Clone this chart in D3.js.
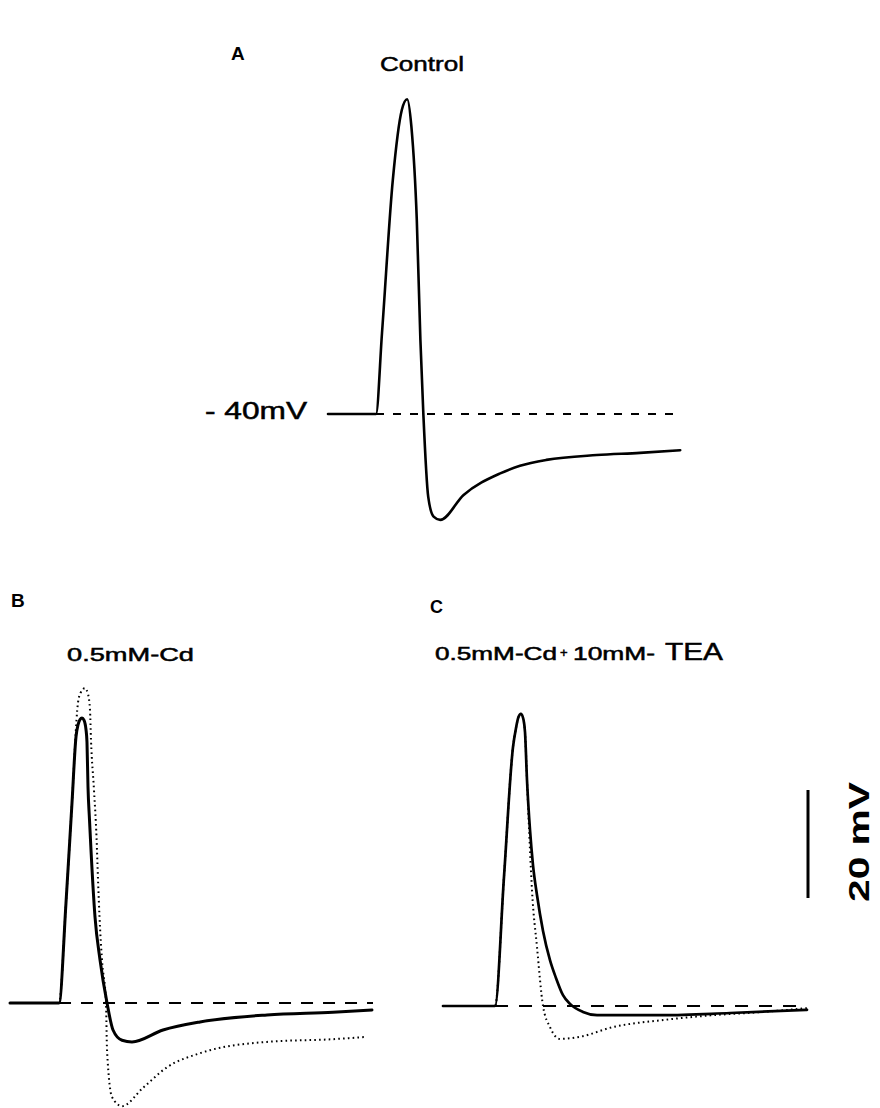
<!DOCTYPE html>
<html>
<head>
<meta charset="utf-8">
<script src="https://cdn.jsdelivr.net/npm/d3@7"></script>
<style>
  html, body { margin: 0; padding: 0; background: #fff; }
  svg { display: block; }
  text { font-family: "Liberation Sans", Arial, sans-serif; fill: #000; }
</style>
</head>
<body>
<svg id="chart" width="880" height="1108"></svg>
<script>
// ---------------- DATA (time in ms, membrane potential in mV) ----------------
const restingPotential = -40;

// Panel A: Control
const timeA    = [0, 8, 9, 10.8, 12.3, 13.2, 13.9, 14.8, 15.4, 15.9, 16.7, 17.6, 18.7, 22.6, 28.7, 32, 36.4, 44.8, 52, 58.7];
const controlA = [-40, -40, -25, 3.3, 16.3, 18.3, 13.2, -4.1, -26.3, -40.2, -55.3, -59.0, -59.6, -55, -51, -49.6, -48.5, -47.6, -47.2, -46.7];
const baselineSpanA = [8, 58.7];

// Panel B: 0.5 mM Cd (solid) with control superimposed (dotted)
const timeB  = [0, 8.17, 9.33, 10.33, 11.0, 11.33, 11.67, 12.0, 12.33, 12.67, 12.83, 13.0, 13.25, 13.5, 14.17, 15.0, 16.17, 17.17, 18.67, 20.33, 25.5, 31.67, 42.83, 53.83, 60.33];
const cdB    = [-40, -40, -21.5, -3.0, 9.3, 11.5, 12.5, 12.8, 12.4, 10.6, 8.3, 0, -6.1, -11.7, -24.1, -32.0, -40, -45, -46.9, -47.2, -45, -43.5, -42.2, -41.7, -41.3];
const timeBc = [0, 8.17, 9.33, 10.33, 11.33, 11.75, 12.5, 13.0, 13.33, 13.5, 14.0, 14.42, 14.67, 14.92, 15.33, 16.0, 16.17, 17.0, 18.67, 22.17, 26.17, 31.67, 42.83, 53.83, 59.17];
const controlB = [-40, -40, -21.5, -3.0, 15.6, 17.4, 18.3, 17.2, 14.3, 8.7, -0.6, -9.3, -17.2, -24.1, -32, -40, -48.7, -57.4, -59.1, -55.7, -51.9, -49.3, -47.2, -46.7, -46.3];
const baselineSpanB = [8.17, 60.5];

// Panel C: 0.5 mM Cd + 10 mM TEA (solid) with 0.5 mM Cd superimposed (dotted)
const timeC   = [0, 8.67, 10.17, 11.67, 12.17, 12.58, 13.0, 13.42, 13.67, 14.0, 14.5, 15.0, 15.67, 16.67, 17.83, 18.83, 20.0, 21.17, 23.33, 25.67, 36.67, 47.83, 60.67];
const cdTeaC  = [-40, -40, -16.0, 8.0, 11.5, 13.5, 14.1, 13.0, 10.7, 1.85, -7.4, -13.9, -19.5, -26.1, -31.5, -34.8, -38.0, -39.6, -41.1, -41.7, -41.7, -41.3, -40.7];
const timeCd  = [0, 8.67, 10.17, 11.67, 12.17, 12.58, 13.0, 13.42, 13.67, 14.0, 14.5, 14.83, 15.67, 16.67, 17.83, 19.5, 22.83, 28.33, 36.67, 45, 53.33, 60.67];
const cdC     = [-40, -40, -16.0, 8.0, 11.5, 13.5, 14.1, 13.0, 10.7, 1.85, -11.1, -18.5, -29.1, -40, -43.9, -46.1, -45.7, -43.9, -42.6, -41.7, -41.1, -40.4];
const baselineSpanC = [8.67, 60.67];

// Scale bar
const scaleBarMV = 20;

// Labels
const panelLabels = ["A", "B", "C"];
const conditionLabels = ["Control", "0.5mM-Cd", "0.5mM-Cd", "+", "10mM-", "TEA"];
const restLabel = "- 40mV";
const scaleLabel = "20 mV";

// ---------------- LAYOUT ----------------
const svg = d3.select("#chart");
const pxPerMs = 6, pxPerMV = 5.4, spanMs = 60;

function makeScales(x0, yBase) {
  const x = d3.scaleLinear().domain([0, spanMs]).range([x0, x0 + spanMs * pxPerMs]);
  const y = d3.scaleLinear().domain([restingPotential, restingPotential + 100])
              .range([yBase, yBase - 100 * pxPerMV]);
  return {x, y};
}

const panels = {
  A: makeScales(328, 414),
  B: makeScales(10, 1003),
  C: makeScales(443, 1006)
};

function trace(sc, ts, vs, opts) {
  const data = ts.map((t, i) => [t, vs[i]]);
  const line = d3.line().x(d => sc.x(d[0])).y(d => sc.y(d[1])).curve(d3.curveMonotoneX);
  svg.append("path").datum(data)
    .attr("d", line)
    .attr("fill", "none")
    .attr("stroke", "#000")
    .attr("stroke-width", opts.width)
    .attr("stroke-dasharray", opts.dash || null)
    .attr("stroke-linejoin", "round")
    .attr("stroke-linecap", opts.dash ? "butt" : "round");
}

function baseline(sc, span, dash) {
  svg.append("line")
    .attr("x1", sc.x(span[0])).attr("x2", sc.x(span[1]))
    .attr("y1", sc.y(restingPotential)).attr("y2", sc.y(restingPotential))
    .attr("stroke", "#000").attr("stroke-width", 2)
    .attr("stroke-dasharray", dash);
}

// Panel A
baseline(panels.A, baselineSpanA, "8,9");
trace(panels.A, timeA, controlA, {width: 2.6});

// Panel B
baseline(panels.B, baselineSpanB, "12,10");
trace(panels.B, timeBc, controlB, {width: 2, dash: "1.6,3.2"});
trace(panels.B, timeB, cdB, {width: 3});

// Panel C
baseline(panels.C, baselineSpanC, "13,11");
trace(panels.C, timeCd, cdC, {width: 2, dash: "1.6,3.2"});
trace(panels.C, timeC, cdTeaC, {width: 2.7});

// Scale bar (drawn from the shared mV scale)
const sbTop = 790;
const sbLen = panels.C.y(restingPotential) - panels.C.y(restingPotential + scaleBarMV);
svg.append("line")
  .attr("x1", 808).attr("x2", 808)
  .attr("y1", sbTop).attr("y2", sbTop + sbLen)
  .attr("stroke", "#000").attr("stroke-width", 3);
svg.append("text")
  .attr("transform", "translate(869,842) rotate(-90)")
  .attr("text-anchor", "middle")
  .attr("font-size", 29).attr("font-weight", "bold")
  .attr("textLength", 120).attr("lengthAdjust", "spacingAndGlyphs")
  .text(scaleLabel);

// Texts
function label(str, x, y, size, len, weight) {
  const t = svg.append("text").attr("x", x).attr("y", y)
    .attr("font-size", size).attr("font-weight", weight || "normal")
    .attr("stroke", "#000").attr("stroke-width", weight === "bold" ? 0 : 0.5)
    .text(str);
  if (len) t.attr("textLength", len).attr("lengthAdjust", "spacingAndGlyphs");
  return t;
}
label(panelLabels[0], 231, 60, 19, null, "bold");
label(panelLabels[1], 11, 607, 19, null, "bold");
label(panelLabels[2], 430, 613, 18, null, "bold");

label(conditionLabels[0], 380, 71, 21, 84);
label(restLabel, 205, 419, 24, 102);
label(conditionLabels[1], 67, 661, 19, 127);
label(conditionLabels[2], 435, 660, 18, 122);
label(conditionLabels[3], 560, 657, 13, null);
label(conditionLabels[4], 573, 660, 18, 82);
label(conditionLabels[5], 665, 660, 23, 58);
</script>
</body>
</html>
